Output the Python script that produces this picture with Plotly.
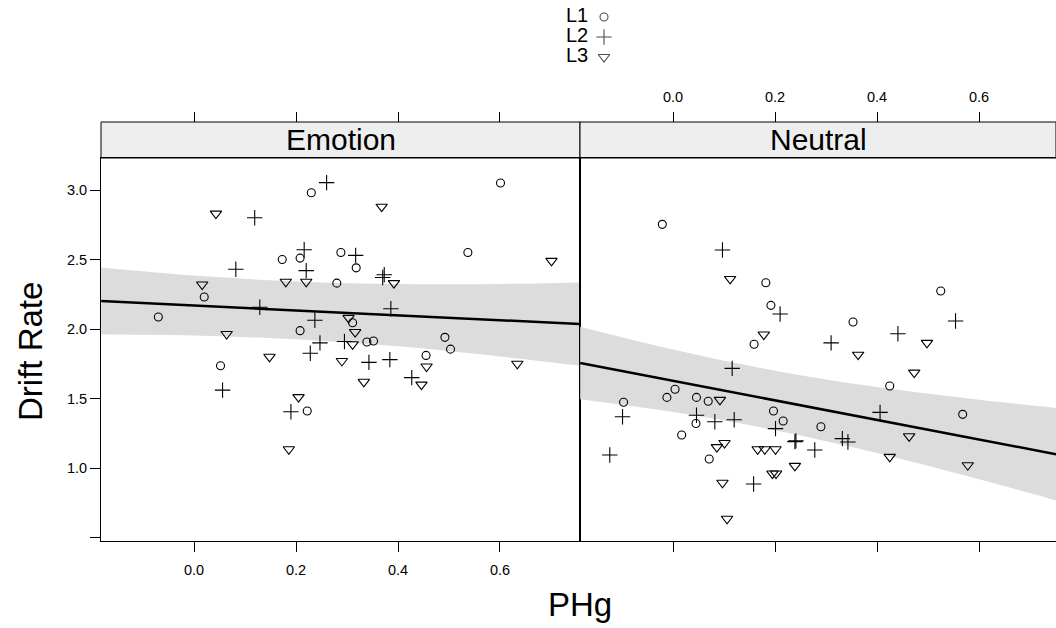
import plotly.graph_objects as go

# ---------------- data ----------------
panels = ["Emotion", "Neutral"]
levels = ["L1", "L2", "L3"]
x_tick_vals = [0.0, 0.2, 0.4, 0.6]
x_tick_text = ["0.0", "0.2", "0.4", "0.6"]
y_tick_vals = [0.5, 1.0, 1.5, 2.0, 2.5, 3.0]
y_tick_text = ["", "1.0", "1.5", "2.0", "2.5", "3.0"]

emo_L1_x = [0.230, 0.173, 0.208, 0.288, 0.318, 0.280, 0.020, -0.070, 0.208, 0.601,
            0.537, 0.311, 0.339, 0.352, 0.492, 0.503, 0.052, 0.222, 0.455]
emo_L1_y = [2.98, 2.50, 2.51, 2.55, 2.44, 2.33, 2.23, 2.086, 1.988, 3.05,
            2.55, 2.045, 1.906, 1.914, 1.94, 1.855, 1.736, 1.41, 1.81]
emo_L2_x = [0.260, 0.119, 0.216, 0.220, 0.082, 0.129, 0.237, 0.247, 0.317, 0.373,
            0.370, 0.386, 0.295, 0.228, 0.056, 0.190, 0.343, 0.384, 0.427]
emo_L2_y = [3.053, 2.80, 2.57, 2.42, 2.43, 2.156, 2.063, 1.90, 2.53, 2.39,
            2.37, 2.146, 1.91, 1.825, 1.56, 1.405, 1.76, 1.78, 1.65]
emo_L3_x = [0.043, 0.220, 0.180, 0.016, 0.064, 0.368, 0.701, 0.392, 0.303, 0.316,
            0.311, 0.148, 0.290, 0.205, 0.186, 0.456, 0.333, 0.446, 0.634]
emo_L3_y = [2.83, 2.34, 2.34, 2.32, 1.964, 2.88, 2.49, 2.33, 2.08, 1.978,
            1.89, 1.80, 1.77, 1.51, 1.135, 1.73, 1.62, 1.60, 1.75]

neu_L1_x = [-0.021, 0.182, 0.192, 0.159, 0.525, 0.353, 0.425, 0.568, 0.290, -0.097,
            -0.012, 0.004, 0.046, 0.069, 0.045, 0.017, 0.071, 0.197, 0.216]
neu_L1_y = [2.753, 2.333, 2.17, 1.89, 2.273, 2.05, 1.59, 1.386, 1.297, 1.473,
            1.508, 1.566, 1.508, 1.48, 1.32, 1.237, 1.065, 1.41, 1.338]
neu_L2_x = [0.097, 0.210, 0.116, 0.554, 0.441, 0.310, 0.406, 0.332, 0.343, 0.278,
            -0.099, -0.124, 0.046, 0.082, 0.120, 0.201, 0.239, 0.241, 0.158]
neu_L2_y = [2.568, 2.108, 1.717, 2.058, 1.966, 1.90, 1.40, 1.211, 1.187, 1.13,
            1.369, 1.094, 1.38, 1.333, 1.347, 1.283, 1.19, 1.195, 0.885]
neu_L3_x = [0.112, 0.178, 0.363, 0.498, 0.473, 0.463, 0.425, 0.578, 0.092, 0.101,
            0.086, 0.166, 0.180, 0.201, 0.195, 0.202, 0.239, 0.097, 0.106]
neu_L3_y = [2.36, 1.96, 1.815, 1.90, 1.686, 1.228, 1.08, 1.02, 1.49, 1.18,
            1.15, 1.135, 1.135, 1.135, 0.96, 0.96, 1.015, 0.894, 0.635]

# fitted line and confidence band
emo_band_x = [-0.182, 0.0, 0.2, 0.4, 0.6, 0.757]
emo_fit = [2.201, 2.169, 2.134, 2.099, 2.063, 2.036]
emo_upper = [2.442, 2.384, 2.342, 2.323, 2.324, 2.335]
emo_lower = [1.960, 1.954, 1.926, 1.875, 1.802, 1.737]

neu_band_x = [-0.182, 0.0, 0.2, 0.4, 0.6, 0.751]
neu_fit = [1.755, 1.627, 1.486, 1.345, 1.205, 1.099]
neu_upper = [2.016, 1.852, 1.700, 1.582, 1.491, 1.431]
neu_lower = [1.494, 1.402, 1.272, 1.108, 0.919, 0.767]

# ---------------- styling ----------------
FONT = "Liberation Sans, Arial, Helvetica, sans-serif"
symbols = {"L1": "circle-open", "L2": "cross-thin-open", "L3": "triangle-down-open"}
sizes = {"L1": 8, "L2": 11, "L3": 10}
BAND = "#dcdcdc"

W, H = 1056, 628
ML, MR, MT, MB = 101, 0, 0, 87
plot_w = W - ML - MR
plot_h = H - MT - MB


def py(p):  # pixel y -> paper y
    return (plot_h - (p - MT)) / plot_h


def px(p):  # pixel x -> paper x
    return (p - ML) / plot_w


split = px(580)
panel_top = py(158)
strip_top = py(122)

fig = go.Figure()

data = {
    "Emotion": [(emo_L1_x, emo_L1_y), (emo_L2_x, emo_L2_y), (emo_L3_x, emo_L3_y)],
    "Neutral": [(neu_L1_x, neu_L1_y), (neu_L2_x, neu_L2_y), (neu_L3_x, neu_L3_y)],
}
bands = {
    "Emotion": (emo_band_x, emo_fit, emo_upper, emo_lower),
    "Neutral": (neu_band_x, neu_fit, neu_upper, neu_lower),
}

for i, pan in enumerate(panels):
    xa = "x" if i == 0 else "x2"
    ya = "y" if i == 0 else "y2"
    bx, bf, bu, bl = bands[pan]
    fig.add_trace(go.Scatter(x=bx, y=bl, mode="lines", line=dict(width=0, color=BAND, shape="spline"),
                             xaxis=xa, yaxis=ya, showlegend=False, hoverinfo="skip"))
    fig.add_trace(go.Scatter(x=bx, y=bu, mode="lines", line=dict(width=0, color=BAND, shape="spline"),
                             fill="tonexty", fillcolor=BAND,
                             xaxis=xa, yaxis=ya, showlegend=False, hoverinfo="skip"))
    fig.add_trace(go.Scatter(x=[bx[0], bx[-1]], y=[bf[0], bf[-1]], mode="lines",
                             line=dict(width=2.5, color="black"),
                             xaxis=xa, yaxis=ya, showlegend=False, hoverinfo="skip"))
    for lev, (xs, ys) in zip(levels, data[pan]):
        fig.add_trace(go.Scatter(x=xs, y=ys, mode="markers", name=lev,
                                 marker=dict(symbol=symbols[lev], size=sizes[lev], color="black",
                                             line=dict(width=1.1, color="black")),
                                 xaxis=xa, yaxis=ya, showlegend=False))

# dummy traces to activate top axes
fig.add_trace(go.Scatter(x=[None], y=[None], xaxis="x3", yaxis="y", showlegend=False, hoverinfo="skip"))
fig.add_trace(go.Scatter(x=[None], y=[None], xaxis="x4", yaxis="y2", showlegend=False, hoverinfo="skip"))

# key at top: symbols and labels
fig.add_trace(go.Scatter(
    x=[0, 0, 0], y=[1, 2, 3], mode="markers",
    marker=dict(symbol=[symbols[l] for l in levels], size=[sizes[l] for l in levels],
                color="black", line=dict(width=1.1, color="black")),
    xaxis="x5", yaxis="y5", showlegend=False, hoverinfo="skip"))
fig.add_trace(go.Scatter(
    x=[-0.36, -0.36, -0.36], y=[1, 2, 3], mode="text", text=levels,
    textposition="middle left", textfont=dict(size=20, family=FONT, color="black"),
    xaxis="x5", yaxis="y5", showlegend=False, hoverinfo="skip"))

xr1 = [-0.1824, 0.7569]
xr2 = [-0.1824, 0.7510]
yr = [0.4748, 3.2302]

common_x = dict(tickvals=x_tick_vals, ticktext=x_tick_text, ticks="outside", ticklen=10,
                tickcolor="black", tickwidth=1, showgrid=False, zeroline=False,
                tickfont=dict(size=14.5, family=FONT, color="black"))

fig.update_layout(
    width=W, height=H,
    margin=dict(l=ML, r=MR, t=MT, b=MB),
    paper_bgcolor="white", plot_bgcolor="white",
    font=dict(family=FONT, color="black"),
    xaxis=dict(domain=[0, split], range=xr1, anchor="y", showline=True, mirror=True,
               linecolor="black", linewidth=1, ticklabelstandoff=6, **common_x),
    xaxis2=dict(domain=[split, 1], range=xr2, anchor="y2", showline=True, mirror=True,
                linecolor="black", linewidth=1, showticklabels=False, **common_x),
    xaxis3=dict(overlaying="x", side="top", anchor="free", position=strip_top, range=xr1,
                showticklabels=False, showline=False, **common_x),
    xaxis4=dict(overlaying="x2", side="top", anchor="free", position=strip_top, range=xr2,
                showticklabels=True, showline=False, ticklabelstandoff=4, **common_x),
    yaxis=dict(domain=[0, panel_top], range=yr, anchor="x", showline=True, mirror=True,
               linecolor="black", linewidth=1, tickvals=y_tick_vals, ticktext=y_tick_text,
               ticks="outside", ticklen=10, tickcolor="black", showgrid=False, zeroline=False,
               tickfont=dict(size=14.5, family=FONT, color="black")),
    yaxis2=dict(domain=[0, panel_top], range=yr, anchor="x2", showline=True, mirror=True,
                linecolor="black", linewidth=1, showticklabels=False, ticks="",
                showgrid=False, zeroline=False),
    xaxis5=dict(domain=[px(560), px(648)], range=[-1, 1], visible=False, fixedrange=True),
    yaxis5=dict(domain=[py(67), py(7)], range=[3.5, 0.5], visible=False, anchor="x5", fixedrange=True),
)

# strips
for i, pan in enumerate(panels):
    x0, x1 = (0, split) if i == 0 else (split, 1)
    fig.add_shape(type="rect", xref="paper", yref="paper", x0=x0, x1=x1,
                  y0=panel_top, y1=strip_top, fillcolor="#eeeeee",
                  line=dict(color="black", width=1), layer="below")
    fig.add_annotation(x=(x0 + x1) / 2, y=(panel_top + strip_top) / 2, xref="paper", yref="paper",
                       text=pan, showarrow=False, font=dict(size=30, family=FONT, color="black"),
                       xanchor="center", yanchor="middle")

fig.add_annotation(x=px(30), y=py(352), xref="paper", yref="paper", text="Drift Rate",
                   textangle=-90, showarrow=False, font=dict(size=33, family=FONT, color="black"),
                   xanchor="center", yanchor="middle")
fig.add_annotation(x=px(580), y=py(604), xref="paper", yref="paper", text="PHg",
                   showarrow=False, font=dict(size=33, family=FONT, color="black"),
                   xanchor="center", yanchor="middle")

fig.write_html("out.html")
